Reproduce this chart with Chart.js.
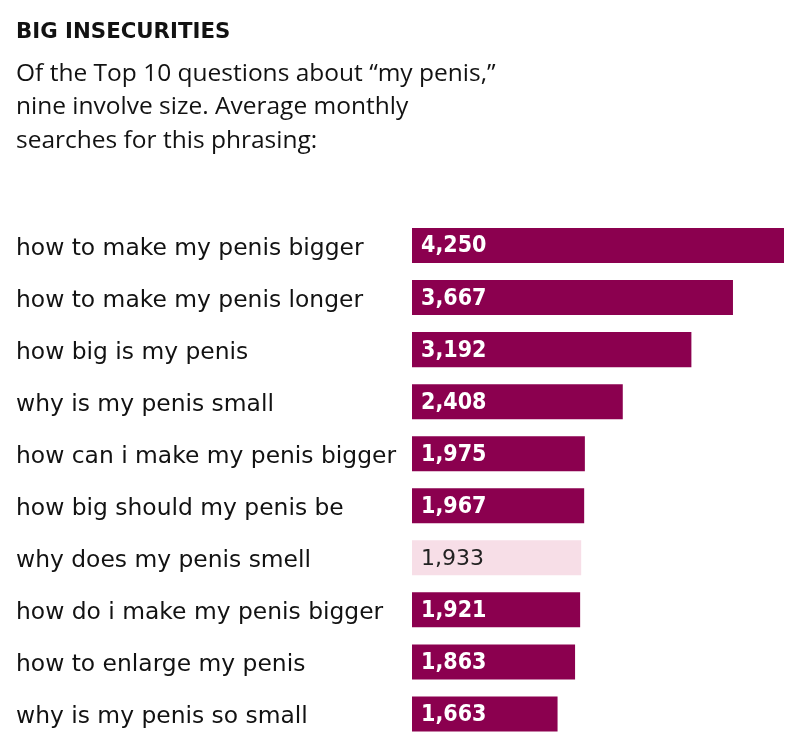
<!DOCTYPE html>
<html lang="en">
<head>
  <meta charset="UTF-8" />
  <title>Big Insecurities</title>
  <script src="https://cdn.jsdelivr.net/npm/chart.js"></script>
  <style>
    body {
      margin: 0;
      background: #fff;
      width: 808px;
      height: 754px;
      position: relative;
      overflow: hidden;
    }
    .title {
      position: absolute;
      left: 16px;
      top: 19.5px;
      margin: 0;
      font-family: "DejaVu Sans", sans-serif;
      font-weight: bold;
      font-size: 21.3px;
      line-height: 22px;
      color: #121212;
      z-index: 1;
    }
    .subtitle {
      position: absolute;
      left: 16px;
      top: 54.5px;
      margin: 0;
      font-family: "Open Sans", sans-serif;
      font-size: 24.5px;
      line-height: 33.5px;
      color: #121212;
      z-index: 1;
    }
    .chart-box {
      position: absolute;
      left: 0;
      top: 0;
      width: 808px;
      height: 754px;
    }
  </style>
</head>
<body>
  <h1 class="title">BIG INSECURITIES</h1>
  <p class="subtitle">Of the Top 10 questions about “my penis,”<br>nine involve size. Average monthly<br>searches for this phrasing:</p>
  <div class="chart-box"><canvas id="chart"></canvas></div>

  <script>
    const questions = [
      'how to make my penis bigger',
      'how to make my penis longer',
      'how big is my penis',
      'why is my penis small',
      'how can i make my penis bigger',
      'how big should my penis be',
      'why does my penis smell',
      'how do i make my penis bigger',
      'how to enlarge my penis',
      'why is my penis so small'
    ];
    const monthlySearches = [4250, 3667, 3192, 2408, 1975, 1967, 1933, 1921, 1863, 1663];
    // the one question that isn't about size
    const notAboutSize = 'why does my penis smell';

    const DARK = '#8b004f';
    const LIGHT = '#f7dee7';

    const barColors = questions.map(q => q === notAboutSize ? LIGHT : DARK);

    // number written inside the left end of each bar
    const valueLabels = {
      id: 'valueLabels',
      afterDatasetsDraw(chart) {
        const ctx = chart.ctx;
        const meta = chart.getDatasetMeta(0);
        ctx.save();
        ctx.textBaseline = 'middle';
        ctx.textAlign = 'left';
        meta.data.forEach((bar, i) => {
          const light = questions[i] === notAboutSize;
          ctx.font = light ? '22px "DejaVu Sans"' : 'bold 23px "DejaVu Sans Condensed"';
          ctx.fillStyle = light ? '#222' : '#fff';
          ctx.fillText(monthlySearches[i].toLocaleString('en-US'), bar.base + 9, bar.y + 1);
        });
        ctx.restore();
      }
    };

    new Chart(document.getElementById('chart'), {
      type: 'bar',
      data: {
        labels: questions,
        datasets: [{
          data: monthlySearches,
          backgroundColor: barColors,
          borderWidth: 0,
          categoryPercentage: 1,
          barPercentage: 0.673
        }]
      },
      options: {
        indexAxis: 'y',
        responsive: true,
        maintainAspectRatio: false,
        animation: false,
        layout: { padding: { left: 16, right: 24, top: 219.5, bottom: 14 } },
        plugins: {
          legend: { display: false },
          tooltip: { enabled: false }
        },
        scales: {
          x: { display: false, min: 0, max: 4250 },
          y: {
            grid: { display: false },
            border: { display: false },
            ticks: {
              crossAlign: 'far',
              padding: 0,
              labelOffset: 3,
              color: '#121212',
              font: { family: '"DejaVu Sans"', size: 23.4 }
            },
            afterFit(scale) { scale.width = 396; }
          }
        }
      },
      plugins: [valueLabels]
    });
  </script>
</body>
</html>
